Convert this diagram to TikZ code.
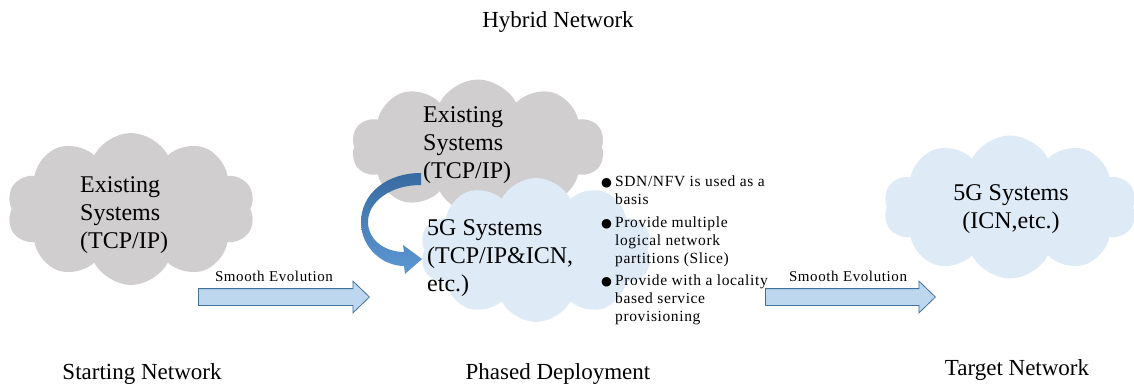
\documentclass[tikz,border=0pt]{standalone}
\usepackage{fontspec}
\setmainfont{Liberation Serif}
\newfontfamily\widefont[LetterSpace=4]{Liberation Serif}
\newfontfamily\symbolfont{DejaVu Sans}
\usepackage{tikz}
\usetikzlibrary{positioning,shapes.symbols,shapes.arrows}

\definecolor{cloudgray}{RGB}{208,206,206}
\definecolor{cloudblue}{RGB}{222,235,247}
\definecolor{arrowfill}{RGB}{189,215,238}
\definecolor{arrowline}{RGB}{65,113,156}
\definecolor{bendtop}{RGB}{56,106,160}
\definecolor{bendbottom}{RGB}{93,152,212}

\newcommand{\bul}{\makebox[14pt][l]{\symbolfont\fontsize{12.5}{12.5}\selectfont ●}}
\newcommand{\ind}{\hspace*{14pt}}

\begin{document}
\begin{tikzpicture}[
  x=1pt, y=-1pt,
  cloudnet/.style={cloud, cloud puffs=10, cloud puff arc=125, aspect=1.7, inner sep=0pt},
  oldnet/.style={cloudnet, fill=cloudgray},
  newnet/.style={cloudnet, fill=cloudblue},
  systext/.style={font=\fontsize{24}{28}\selectfont, align=left, inner sep=0pt},
  stage/.style={font=\fontsize{23}{27}\selectfont, inner sep=0pt},
  evolve/.style={single arrow, draw=arrowline, fill=arrowfill, line width=0.8pt, inner xsep=0pt, inner ysep=8pt, single arrow head extend=7.5pt, single arrow tip angle=88},
  evolabel/.style={font=\widefont\fontsize{15}{15}\selectfont, inner sep=0pt},
  featlist/.style={font=\widefont\fontsize{15.5}{17.8}\selectfont, align=left, inner sep=0pt}
]
\useasboundingbox (0,0) rectangle (1134,387);

% Titles
\node[stage, anchor=base] (hybrid) at (558,28) {Hybrid Network};
\node[stage, anchor=base] (starting) at (142,379) {Starting Network};
\node[stage, anchor=base] (phased) at (558,379) {Phased Deployment};
\node[stage, anchor=base] (target) at (1017,375) {Target Network};

% Starting Network
\node[oldnet, minimum width=248pt, minimum height=152pt] (startcloud) at (131,209) {};
\node[systext, anchor=north west] (starttxt) at (80,176) {Existing\\Systems\\(TCP/IP)};

% Phased Deployment
\node[oldnet, minimum width=253pt, minimum height=135pt] (oldcloud) at (478,147) {};
\node[newnet, minimum width=232pt, minimum height=144pt] (mixcloud) at (536,250) {};
\node[systext, anchor=north west] (oldtxt) at (423,106) {Existing\\Systems\\(TCP/IP)};
\node[systext, anchor=north west] (mixtxt) at (427,219) {5G Systems\\(TCP/IP\&ICN,\\etc.)};

\shade[top color=bendtop, bottom color=bendbottom]
  (421,173) .. controls (385,173) and (361,195) .. (361,222)
  .. controls (361,248) and (383,266) .. (404,266)
  -- (405,274) -- (422,259) -- (403,245) -- (404,252)
  .. controls (385,252) and (368,240) .. (368,222)
  .. controls (368,202) and (390,185) .. (421,185) -- cycle;

\node[featlist, anchor=north west] (feats) at (601,176) {%
  \bul SDN/NFV is used as a\\
  \ind basis\\[5pt]
  \bul Provide multiple\\
  \ind logical network\\
  \ind partitions (Slice)\\[5pt]
  \bul Provide with a locality\\
  \ind based service\\
  \ind provisioning};

% Target Network
\node[newnet, minimum width=253pt, minimum height=143pt] (targetcloud) at (1010,207) {};
\node[systext, align=center, anchor=north] (targettxt) at (1011,184) {5G Systems\\(ICN,etc.)};

% Smooth evolution arrows
\node[evolve, minimum height=171pt, anchor=tail] (evo1) at (198,297) {};
\node[evolabel, anchor=base] (evo1txt) at (274,281) {Smooth Evolution};
\node[evolve, minimum height=170pt, anchor=tail] (evo2) at (765,297) {};
\node[evolabel, anchor=base] (evo2txt) at (848,281) {Smooth Evolution};

\end{tikzpicture}
\end{document}
